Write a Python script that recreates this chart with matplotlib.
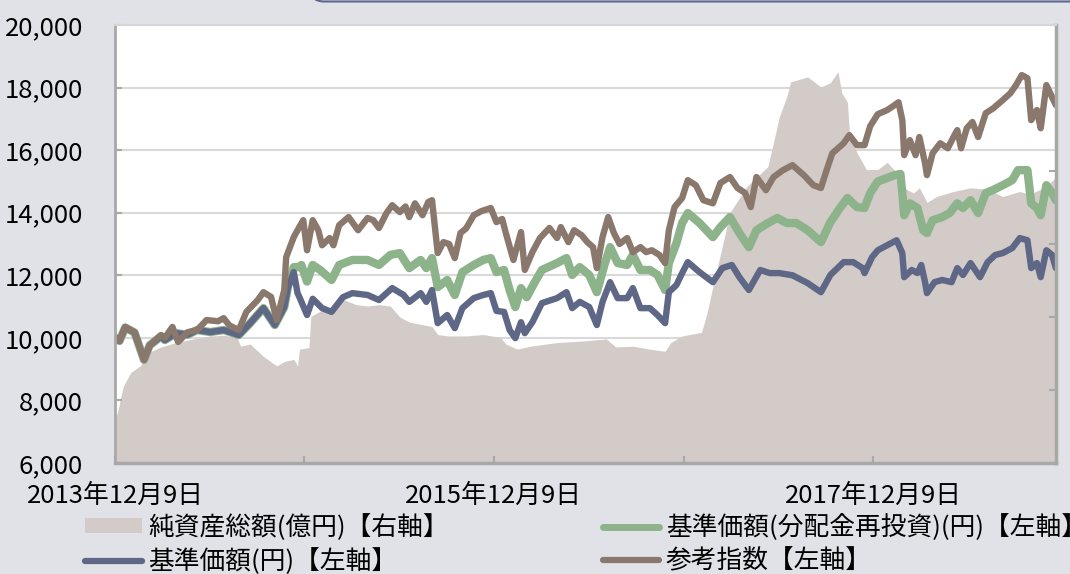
import numpy as np
import matplotlib.pyplot as plt
from matplotlib.lines import Line2D
from matplotlib.patches import Patch, FancyBboxPatch
from matplotlib.ticker import FuncFormatter
from datetime import datetime, timedelta

plt.rcParams['font.family'] = ['Noto Sans CJK JP', 'DejaVu Sans']
plt.rcParams['font.size'] = 18.5

# 参考指数 (decimal year, value)
index_t = [2013.94, 2013.96, 2013.99, 2014.04, 2014.09, 2014.12, 2014.18, 2014.20, 2014.24, 2014.27,
           2014.32, 2014.37, 2014.42, 2014.48, 2014.51, 2014.54, 2014.59, 2014.63, 2014.69, 2014.72,
           2014.76, 2014.79, 2014.83, 2014.84, 2014.88, 2014.91, 2014.93, 2014.95, 2014.98, 2015.01,
           2015.03, 2015.07, 2015.09, 2015.12, 2015.17, 2015.22, 2015.27, 2015.30, 2015.33, 2015.37,
           2015.40, 2015.44, 2015.47, 2015.49, 2015.52, 2015.56, 2015.59, 2015.61, 2015.64, 2015.67,
           2015.70, 2015.73, 2015.76, 2015.79, 2015.83, 2015.87, 2015.92, 2015.95, 2015.98, 2016.00,
           2016.04, 2016.08, 2016.10, 2016.14, 2016.18, 2016.23, 2016.27, 2016.29, 2016.33, 2016.36,
           2016.40, 2016.43, 2016.46, 2016.48, 2016.51, 2016.54, 2016.57, 2016.60, 2016.64, 2016.67,
           2016.71, 2016.74, 2016.77, 2016.81, 2016.84, 2016.86, 2016.89, 2016.93, 2016.96, 2017.00,
           2017.04, 2017.09, 2017.13, 2017.18, 2017.22, 2017.26, 2017.29, 2017.32, 2017.37, 2017.41,
           2017.46, 2017.51, 2017.57, 2017.62, 2017.66, 2017.69, 2017.72, 2017.78, 2017.81, 2017.85,
           2017.89, 2017.92, 2017.96, 2018.01, 2018.04, 2018.07, 2018.09, 2018.10, 2018.13, 2018.16,
           2018.18, 2018.21, 2018.22, 2018.25, 2018.29, 2018.33, 2018.36, 2018.38, 2018.40, 2018.43,
           2018.46, 2018.49, 2018.53, 2018.57, 2018.62, 2018.66, 2018.69, 2018.72, 2018.75, 2018.77,
           2018.80, 2018.82, 2018.85, 2018.88, 2018.90]
index_v = [10000, 9900, 10350, 10180, 9290, 9770, 10090, 10000, 10350, 9870,
           10180, 10250, 10570, 10530, 10630, 10400, 10250, 10830, 11210, 11460,
           11310, 10570, 11530, 12580, 13220, 13550, 13760, 12800, 13760, 13440,
           12960, 13190, 12960, 13600, 13860, 13440, 13830, 13760, 13510, 13990,
           14240, 14020, 14200, 13860, 14300, 13920, 14340, 14400, 12710, 13060,
           13000, 12550, 13350, 13500, 13920, 14050, 14150, 13700, 13800, 13350,
           12490, 13380, 12170, 12740, 13190, 13510, 13190, 13540, 13060, 13440,
           13280, 13060, 12900, 12230, 13220, 13860, 13350, 13000, 13190, 12740,
           12900, 12740, 12800, 12650, 12390, 13440, 14180, 14470, 15040, 14880,
           14400, 14300, 14950, 15140, 14790, 14630, 14180, 15140, 14720, 15140,
           15360, 15520, 15200, 14880, 14790, 15360, 15900, 16220, 16480, 16160,
           16160, 16770, 17150, 17280, 17400, 17530, 16960, 15840, 16320, 15840,
           16420, 15580, 15200, 15900, 16220, 16060, 16420, 16640, 16060, 16700,
           16900, 16420, 17180, 17340, 17600, 17820, 18080, 18400, 18300, 16960,
           17280, 16700, 18080, 17700, 17440]

# 基準価額(円)
nav_t = [2013.94, 2013.96, 2013.99, 2014.04, 2014.09, 2014.12, 2014.18, 2014.20, 2014.26, 2014.32,
         2014.37, 2014.44, 2014.51, 2014.59, 2014.65, 2014.72, 2014.78, 2014.83, 2014.85, 2014.88,
         2014.90, 2014.91, 2014.95, 2014.98, 2015.03, 2015.08, 2015.14, 2015.19, 2015.27, 2015.33,
         2015.40, 2015.46, 2015.49, 2015.55, 2015.58, 2015.61, 2015.64, 2015.69, 2015.73, 2015.77,
         2015.83, 2015.88, 2015.92, 2015.95, 2015.99, 2016.02, 2016.05, 2016.08, 2016.10, 2016.14,
         2016.19, 2016.27, 2016.32, 2016.35, 2016.39, 2016.44, 2016.48, 2016.51, 2016.55, 2016.59,
         2016.64, 2016.67, 2016.71, 2016.76, 2016.80, 2016.84, 2016.86, 2016.90, 2016.93, 2016.96,
         2017.02, 2017.09, 2017.14, 2017.19, 2017.23, 2017.28, 2017.34, 2017.39, 2017.44, 2017.51,
         2017.59, 2017.66, 2017.71, 2017.78, 2017.83, 2017.88, 2017.89, 2017.93, 2017.96, 2018.01,
         2018.06, 2018.09, 2018.10, 2018.14, 2018.17, 2018.19, 2018.21, 2018.22, 2018.26, 2018.30,
         2018.35, 2018.38, 2018.41, 2018.45, 2018.50, 2018.54, 2018.58, 2018.62, 2018.67, 2018.71,
         2018.75, 2018.77, 2018.80, 2018.82, 2018.85, 2018.88, 2018.90]
nav_v = [10000, 9900, 10330, 10170, 9300, 9760, 10050, 9930, 10150, 10100,
         10250, 10185, 10250, 10090, 10470, 10950, 10410, 10985, 11620, 12100,
         11430, 11300, 10730, 11250, 10950, 10830, 11300, 11430, 11370, 11210,
         11590, 11370, 11150, 11430, 11150, 11530, 10470, 10730, 10310, 10950,
         11270, 11370, 11430, 10860, 10830, 10250, 9990, 10500, 10150, 10500,
         11110, 11270, 11460, 10950, 11150, 10985, 10410, 11150, 11780, 11270,
         11270, 11590, 10950, 10950, 10730, 10470, 11460, 11690, 12070, 12420,
         12100, 11780, 12230, 12330, 11940, 11530, 12170, 12070, 12070, 12000,
         11750, 11460, 12010, 12420, 12420, 12230, 12070, 12580, 12800, 12960,
         13120, 12710, 11940, 12170, 12070, 12330, 11780, 11430, 11780, 11850,
         11780, 12230, 12010, 12390, 11940, 12420, 12650, 12710, 12870, 13190,
         13120, 12230, 12390, 11940, 12800, 12650, 12230]

# 基準価額(分配金再投資)(円)
reinv_t = [2013.94, 2013.96, 2013.99, 2014.04, 2014.09, 2014.12, 2014.18, 2014.20, 2014.26, 2014.32,
           2014.37, 2014.44, 2014.51, 2014.59, 2014.65, 2014.72, 2014.78, 2014.83, 2014.85, 2014.88,
           2014.91, 2014.92, 2014.95, 2014.98, 2015.02, 2015.08, 2015.12, 2015.19, 2015.27, 2015.33,
           2015.39, 2015.44, 2015.49, 2015.55, 2015.58, 2015.61, 2015.64, 2015.69, 2015.73, 2015.77,
           2015.83, 2015.88, 2015.92, 2015.95, 2015.99, 2016.02, 2016.05, 2016.08, 2016.11, 2016.15,
           2016.19, 2016.27, 2016.32, 2016.35, 2016.39, 2016.44, 2016.48, 2016.52, 2016.55, 2016.59,
           2016.64, 2016.67, 2016.71, 2016.76, 2016.80, 2016.84, 2016.86, 2016.90, 2016.93, 2016.96,
           2017.02, 2017.09, 2017.13, 2017.18, 2017.23, 2017.28, 2017.32, 2017.38, 2017.43, 2017.48,
           2017.53, 2017.59, 2017.66, 2017.71, 2017.76, 2017.80, 2017.85, 2017.89, 2017.92, 2017.96,
           2018.01, 2018.05, 2018.08, 2018.09, 2018.10, 2018.13, 2018.17, 2018.20, 2018.22, 2018.25,
           2018.30, 2018.34, 2018.38, 2018.41, 2018.45, 2018.49, 2018.53, 2018.57, 2018.62, 2018.67,
           2018.70, 2018.75, 2018.77, 2018.80, 2018.82, 2018.85, 2018.88, 2018.90]
reinv_v = [10000, 9900, 10330, 10170, 9300, 9760, 10050, 9930, 10150, 10100,
           10250, 10185, 10250, 10090, 10470, 10950, 10410, 10985, 11650, 12260,
           12260, 12330, 11800, 12330, 12170, 11850, 12330, 12490, 12490, 12330,
           12650, 12710, 12230, 12490, 12230, 12550, 11620, 11850, 11370, 12100,
           12330, 12490, 12550, 12100, 12170, 11530, 10985, 11590, 11300, 11750,
           12170, 12390, 12550, 12010, 12260, 12010, 11460, 12330, 12900, 12390,
           12330, 12650, 12170, 12170, 12010, 11530, 12390, 13030, 13670, 13990,
           13670, 13220, 13540, 13860, 13350, 12900, 13440, 13670, 13830, 13670,
           13670, 13440, 13060, 13700, 14150, 14470, 14180, 14150, 14630, 15000,
           15110, 15200, 15240, 14630, 13920, 14300, 14150, 13440, 13350, 13760,
           13860, 13990, 14300, 14150, 14400, 13990, 14630, 14730, 14880, 15040,
           15360, 15360, 14300, 14150, 13920, 14880, 14630, 14400]

# 純資産総額(億円) on the right axis
assets_t = [2013.94, 2013.95, 2013.98, 2014.02, 2014.07, 2014.12, 2014.18, 2014.26, 2014.35, 2014.44,
            2014.51, 2014.58, 2014.60, 2014.65, 2014.72, 2014.79, 2014.83, 2014.88, 2014.90, 2014.91,
            2014.96, 2014.97, 2015.02, 2015.09, 2015.14, 2015.21, 2015.27, 2015.33, 2015.39, 2015.44,
            2015.49, 2015.55, 2015.61, 2015.64, 2015.70, 2015.79, 2015.88, 2015.97, 2016.00, 2016.06,
            2016.13, 2016.27, 2016.40, 2016.53, 2016.58, 2016.67, 2016.76, 2016.84, 2016.87, 2016.93,
            2016.97, 2017.03, 2017.06, 2017.09, 2017.14, 2017.18, 2017.27, 2017.38, 2017.41, 2017.44,
            2017.48, 2017.50, 2017.59, 2017.66, 2017.71, 2017.75, 2017.77, 2017.80, 2017.81, 2017.85,
            2017.90, 2017.96, 2018.01, 2018.08, 2018.11, 2018.15, 2018.18, 2018.22, 2018.27, 2018.36,
            2018.45, 2018.54, 2018.62, 2018.71, 2018.76, 2018.82, 2018.87, 2018.90]
assets_v = [630, 700, 1050, 1240, 1330, 1520, 1590, 1650, 1700, 1740,
            1750, 1720, 1600, 1630, 1460, 1330, 1390, 1420, 1330, 1560,
            1580, 2010, 2080, 2150, 2240, 2170, 2150, 2170, 2150, 2000,
            1930, 1900, 1870, 1760, 1740, 1740, 1760, 1720, 1630, 1560,
            1600, 1650, 1670, 1700, 1590, 1600, 1560, 1530, 1650, 1740,
            1760, 1790, 2060, 2420, 2970, 3430, 3790, 4060, 4390, 4740,
            5020, 5220, 5290, 5150, 5210, 5360, 5070, 4940, 4530, 4250,
            4020, 4020, 4120, 3920, 3750, 3700, 3770, 3570, 3650, 3720,
            3770, 3750, 3650, 3720, 3680, 3750, 3840, 3920]

xtick_dates = ["2013-12-09", "2014-12-09", "2015-12-09", "2016-12-09", "2017-12-09"]
xtick_labels = ["2013年12月9日", "", "2015年12月9日", "", "2017年12月9日"]
left_ticks = [6000, 8000, 10000, 12000, 14000, 16000, 18000, 20000]
right_ticks = [0, 1000, 2000, 3000, 4000, 5000, 6000]
legend_labels = ["純資産総額(億円)【右軸】", "基準価額(円)【左軸】",
                 "基準価額(分配金再投資)(円)【左軸】", "参考指数【左軸】"]

C_AREA = "#d3cbc8"
C_GREEN = "#8db38b"
C_BLUE = "#5e6786"
C_BROWN = "#8a786c"
C_SPINE = "#a8a8a8"
BG = "#e1e2e7"


def to_date(y):
    year = int(y)
    return datetime(year, 1, 1) + timedelta(days=(y - year) * 365.25)


def dates(ts):
    return [to_date(t) for t in ts]


fig = plt.figure(figsize=(10.7, 5.74), dpi=100, facecolor=BG)
rect = [115 / 1070, 1 - 463 / 574, 941 / 1070, 438 / 574]

# background layer: white plot area + horizontal grid
ax_bg = fig.add_axes(rect)
ax_bg.set_facecolor("white")
ax_bg.set_ylim(6000, 20000)
ax_bg.set_yticks(left_ticks)
ax_bg.grid(axis="y", color="#d9d9d9", lw=1.5)
ax_bg.tick_params(left=False, labelleft=False)
ax_bg.xaxis.set_visible(False)
for s in ax_bg.spines.values():
    s.set_visible(False)

# net assets on the right axis
ax_area = fig.add_axes(rect, sharex=ax_bg)
ax_area.patch.set_visible(False)
ax_area.fill_between(dates(assets_t), 0, assets_v, color=C_AREA, lw=0)
ax_area.set_ylim(0, 6000)
ax_area.set_yticks(right_ticks)
ax_area.yaxis.tick_right()
ax_area.tick_params(axis="y", direction="in", length=5, width=1.5, color=C_SPINE, labelright=False)
ax_area.xaxis.set_visible(False)
for s in ax_area.spines.values():
    s.set_visible(False)

# price lines on the left axis
ax = fig.add_axes(rect, sharex=ax_bg, sharey=ax_bg)
ax.patch.set_visible(False)
kw = dict(solid_capstyle="round", solid_joinstyle="round")
ax.plot(dates(reinv_t), reinv_v, color=C_GREEN, lw=6, **kw)
ax.plot(dates(nav_t), nav_v, color=C_BLUE, lw=4.6, **kw)
ax.plot(dates(index_t), index_v, color=C_BROWN, lw=4.6, **kw)

ax.set_xlim(datetime(2013, 12, 9), datetime(2018, 11, 26))
ax.set_xticks([datetime.strptime(d, "%Y-%m-%d") for d in xtick_dates])
ax.set_xticklabels(xtick_labels)
ax.yaxis.set_major_formatter(FuncFormatter(lambda v, p: f"{v:,.0f}"))
ax.tick_params(axis="x", direction="in", length=5, width=1.5, color=C_SPINE, pad=14)
ax.tick_params(axis="y", direction="in", length=5, width=1.5, color=C_SPINE, pad=23)
ax.spines["top"].set_color("#d6d6d6")
ax.spines["top"].set_linewidth(1.5)
for side, w in (("left", 2.0), ("bottom", 2.5), ("right", 2.5)):
    ax.spines[side].set_color(C_SPINE)
    ax.spines[side].set_linewidth(w)

handles = [
    Patch(facecolor=C_AREA, edgecolor="none"),
    Line2D([], [], color=C_BLUE, lw=4.5, solid_capstyle="round"),
    Line2D([], [], color=C_GREEN, lw=5, solid_capstyle="round"),
    Line2D([], [], color=C_BROWN, lw=4.5, solid_capstyle="round"),
]
fig.legend(handles, legend_labels, ncol=2, loc="upper left",
           bbox_to_anchor=(85 / 1070, 1 - 514 / 574), frameon=False,
           handlelength=2.2, handleheight=0.5, handletextpad=0.25,
           columnspacing=6.0, labelspacing=0.3, borderpad=0, borderaxespad=0)

# frame of the box above the chart
fig.add_artist(FancyBboxPatch((308 / 1070, 1 - 1.5 / 574), 0.8, 0.05,
                              boxstyle="round,pad=0,rounding_size=0.015",
                              transform=fig.transFigure, fc="none",
                              ec="#5b6790", lw=1.5, clip_on=False))

fig.savefig("out.png", dpi=100, facecolor=BG)
